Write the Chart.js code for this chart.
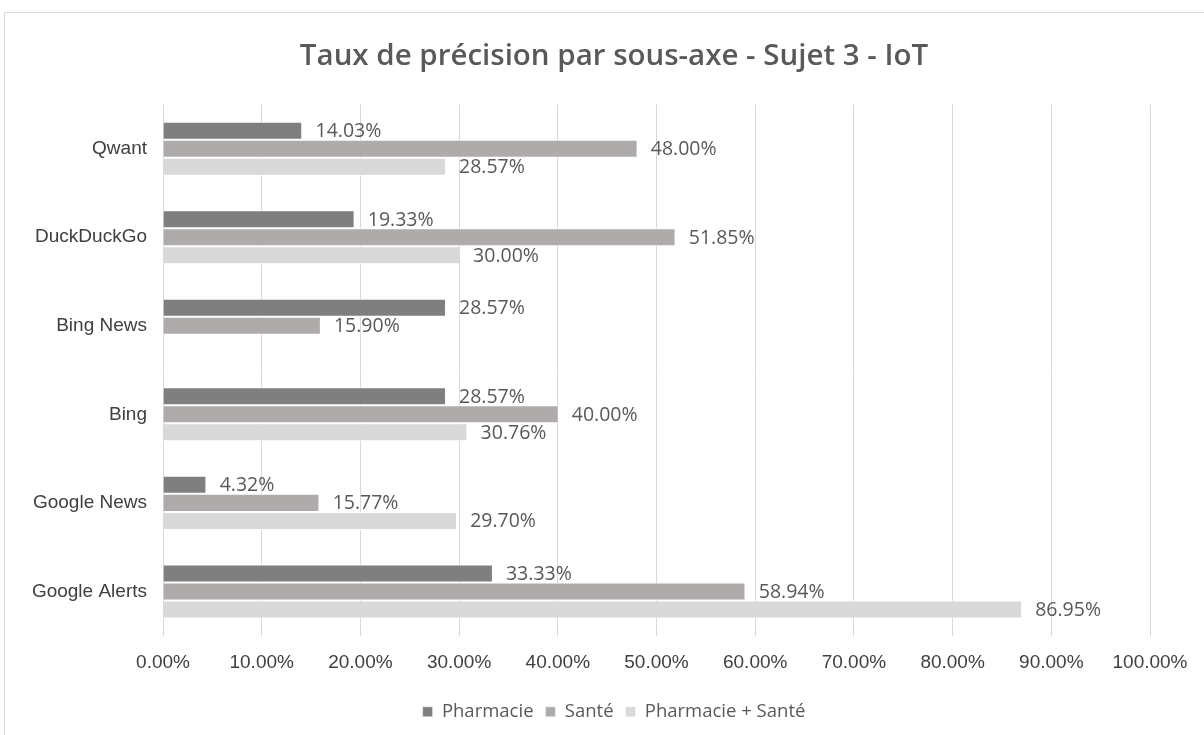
<!DOCTYPE html>
<html>
<head>
<meta charset="utf-8">
<script src="https://cdn.jsdelivr.net/npm/chart.js@4.4.0/dist/chart.umd.min.js"></script>
<style>
  html, body { margin: 0; padding: 0; background: #fff; }
  #wrap { position: relative; width: 1204px; height: 735px; }
</style>
</head>
<body>
<div id="wrap"><canvas id="chart" width="1204" height="735"></canvas></div>
<script>
// data
const categories = ["Qwant", "DuckDuckGo", "Bing News", "Bing", "Google News", "Google Alerts"];
const pharmacie = [14.03, 19.33, 28.57, 28.57, 4.32, 33.33];
const sante = [48.00, 51.85, 15.90, 40.00, 15.77, 58.94];
const pharmacieSante = [28.57, 30.00, null, 30.76, 29.70, 86.95];
const seriesNames = ["Pharmacie", "Santé", "Pharmacie + Santé"];
const seriesColors = ["#7f7f7f", "#afabab", "#d9d9d9"];

// value labels to the right of each bar
const barLabels = {
  id: "barLabels",
  afterDatasetsDraw(chart) {
    const ctx = chart.ctx;
    ctx.save();
    ctx.font = "19.5px 'Open Sans'";
    ctx.fillStyle = "#595959";
    ctx.textAlign = "left";
    ctx.textBaseline = "middle";
    chart.data.datasets.forEach((ds, i) => {
      chart.getDatasetMeta(i).data.forEach((bar, j) => {
        const v = ds.data[j];
        if (v == null) return;
        ctx.fillText(v.toFixed(2) + "%", bar.x + 14, bar.y + 1);
      });
    });
    ctx.restore();
  }
};

// outer chart frame; also let the category labels use the left margin
const frame = {
  id: "frame",
  afterLayout(chart) {
    chart.scales.y.left = 0;
  },
  beforeDraw(chart) {
    const ctx = chart.ctx;
    ctx.save();
    ctx.strokeStyle = "#d9d9d9";
    ctx.lineWidth = 1;
    ctx.strokeRect(4.5, 12.5, 1250, 800);
    ctx.restore();
  }
};

new Chart(document.getElementById("chart"), {
  type: "bar",
  data: {
    labels: categories,
    datasets: [pharmacie, sante, pharmacieSante].map((d, i) => ({
      label: seriesNames[i],
      data: d,
      backgroundColor: seriesColors[i],
      borderColor: "#ffffff",
      borderWidth: { top: 1, bottom: 1, left: 0, right: 0 },
      borderSkipped: false,
      categoryPercentage: 0.61,
      barPercentage: 1.0
    }))
  },
  options: {
    indexAxis: "y",
    responsive: false,
    animation: false,
    layout: { padding: { left: 78, right: 54, top: 20, bottom: 4 } },
    plugins: {
      title: {
        display: true,
        text: "Taux de précision par sous-axe - Sujet 3 - IoT",
        color: "#595959",
        font: { family: "'Open Sans'", size: 29.5, weight: "600" },
        padding: { top: 19, bottom: 30 }
      },
      legend: {
        position: "bottom",
        labels: {
          color: "#595959",
          font: { family: "'Open Sans'", size: 18.5 },
          boxWidth: 10,
          boxHeight: 10,
          padding: 12
        }
      },
      tooltip: { enabled: false }
    },
    scales: {
      x: {
        min: 0,
        max: 100,
        ticks: {
          stepSize: 10,
          color: "#404040",
          font: { family: "'Liberation Sans'", size: 19 },
          padding: 16,
          callback: v => v.toFixed(2) + "%"
        },
        grid: { color: "#d9d9d9", drawTicks: false },
        border: { display: false }
      },
      y: {
        ticks: {
          color: "#404040",
          font: { family: "'Liberation Sans'", size: 19 },
          padding: 16
        },
        grid: { display: false, drawTicks: false },
        border: { display: false },
        afterFit(scale) { scale.width = 85; }
      }
    }
  },
  plugins: [frame, barLabels]
});
</script>
</body>
</html>
